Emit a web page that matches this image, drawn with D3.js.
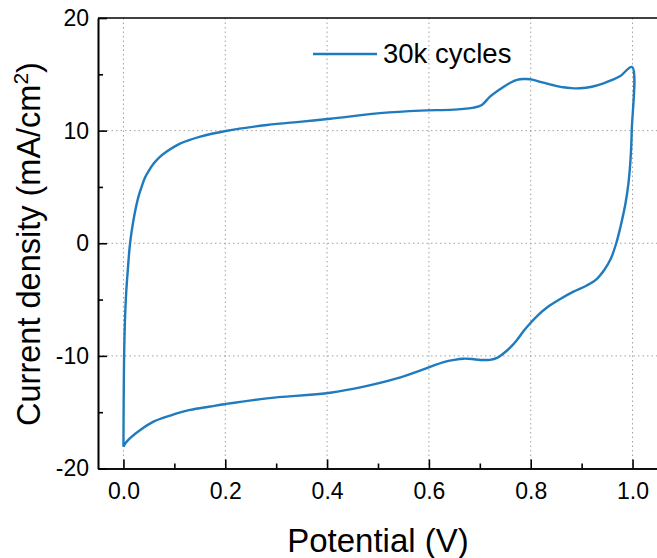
<!DOCTYPE html>
<html>
<head>
<meta charset="utf-8">
<script src="https://cdn.jsdelivr.net/npm/d3@7"></script>
<style>
  html, body { margin: 0; padding: 0; background: #fff; }
  svg { display: block; }
  text { font-family: "Liberation Sans", Arial, sans-serif; fill: #000; }
</style>
</head>
<body>
<svg id="chart" width="657" height="558"></svg>
<script>
// Cyclic voltammogram after 30k cycles: anodic sweep 0 -> 1 V, then cathodic sweep back to 0 V
const potential = [
  // anodic sweep
  0.000, 0.0003, 0.0008, 0.0015, 0.003, 0.0055, 0.0085, 0.013, 0.0197, 0.0295,
  0.036, 0.0426, 0.050, 0.059, 0.070, 0.085, 0.111, 0.151, 0.201, 0.282,
  0.350, 0.406, 0.504, 0.583, 0.648, 0.688, 0.704, 0.720, 0.747, 0.760,
  0.773, 0.786, 0.799, 0.812, 0.825, 0.845, 0.864, 0.880, 0.897, 0.920,
  0.943, 0.960, 0.976, 0.999,
  // cathodic sweep
  0.9985, 0.996, 0.992, 0.986, 0.976, 0.968, 0.957, 0.944, 0.929, 0.910,
  0.884, 0.858, 0.832, 0.815, 0.799, 0.786, 0.773, 0.760, 0.747, 0.735,
  0.720, 0.701, 0.685, 0.668, 0.650, 0.629, 0.601, 0.537, 0.472, 0.406,
  0.282, 0.201, 0.170, 0.131, 0.092, 0.059, 0.033, 0.013, 0.005, 0.000
];
const current = [
  -18.06, -15.0, -12.0, -9.5, -6.8, -4.3, -2.4, 0.0, 2.07, 4.14,
  5.05, 5.85, 6.45, 7.05, 7.6, 8.14, 8.85, 9.47, 9.97, 10.5,
  10.8, 11.05, 11.55, 11.78, 11.86, 12.04, 12.28, 13.02, 13.9, 14.25,
  14.5, 14.58, 14.56, 14.42, 14.26, 14.03, 13.85, 13.77, 13.76, 13.9,
  14.2, 14.5, 14.85, 15.65,
  10.06, 7.4, 5.33, 3.5, 1.4, 0.0, -1.4, -2.4, -3.2, -3.75,
  -4.3, -4.95, -5.7, -6.35, -7.1, -7.8, -8.59, -9.25, -9.77, -10.15,
  -10.35, -10.36, -10.28, -10.25, -10.35, -10.55, -11.0, -12.0, -12.73, -13.27,
  -13.77, -14.27, -14.5, -14.8, -15.3, -15.84, -16.58, -17.3, -17.7, -18.06
];
const seriesLabel = "30k cycles";

const xMajor = [0, 0.2, 0.4, 0.6, 0.8, 1.0];
const xMinor = [0.1, 0.3, 0.5, 0.7, 0.9];
const yMajor = [-20, -10, 0, 10, 20];
const yMinor = [-15, -5, 5, 15];
const yGrid = [-10, 0, 10];

const svg = d3.select("#chart");
const plotLeft = 98, plotRight = 658, plotTop = 18, plotBottom = 468.5;

const x = d3.scaleLinear().domain([-0.05, 1.05]).range([plotLeft, plotRight]);
const y = d3.scaleLinear().domain([-20, 20]).range([plotBottom, plotTop]);

const color = "#1f7bbd";

// dotted grid
const grid = svg.append("g").attr("stroke", "#a0a0a0").attr("stroke-width", 1)
  .attr("stroke-dasharray", "1.5,3");
grid.selectAll("line.gx").data(xMajor).join("line")
  .attr("x1", d => x(d)).attr("x2", d => x(d))
  .attr("y1", plotTop).attr("y2", plotBottom);
grid.selectAll("line.gy").data(yGrid).join("line")
  .attr("x1", plotLeft).attr("x2", plotRight)
  .attr("y1", d => y(d)).attr("y2", d => y(d));

// CV curve
const pts = potential.map((p, i) => [p, current[i]]);
const line = d3.line()
  .x(d => x(d[0])).y(d => y(d[1]))
  .curve(d3.curveCatmullRom.alpha(0.5));
svg.append("path").datum(pts)
  .attr("fill", "none").attr("stroke", color)
  .attr("stroke-width", 2.4).attr("stroke-linejoin", "round")
  .attr("d", line);

// frame lines
svg.append("line").attr("x1", plotLeft).attr("x2", plotRight).attr("y1", plotTop).attr("y2", plotTop)
  .attr("stroke", "#000").attr("stroke-width", 1.6);
svg.append("line").attr("x1", plotRight).attr("x2", plotRight).attr("y1", plotTop).attr("y2", plotBottom)
  .attr("stroke", "#000").attr("stroke-width", 1.6);

// axes (ticks pointing inward)
const hyphenInt = d => String(Math.round(d));
svg.append("g").attr("transform", `translate(0,${plotBottom})`)
  .call(d3.axisBottom(x).tickValues(xMajor).tickFormat(d => d.toFixed(1))
    .tickSize(-9).tickSizeOuter(0).tickPadding(14));
svg.append("g").attr("transform", `translate(0,${plotBottom})`)
  .call(d3.axisBottom(x).tickValues(xMinor).tickFormat("")
    .tickSize(-5).tickSizeOuter(0));
svg.append("g").attr("transform", `translate(${plotLeft},0)`)
  .call(d3.axisLeft(y).tickValues(yMajor).tickFormat(hyphenInt)
    .tickSize(-9).tickSizeOuter(0).tickPadding(9));
svg.append("g").attr("transform", `translate(${plotLeft},0)`)
  .call(d3.axisLeft(y).tickValues(yMinor).tickFormat("")
    .tickSize(-5).tickSizeOuter(0));

svg.selectAll(".domain").attr("stroke", "#000").attr("stroke-width", 1.6);
svg.selectAll(".tick line").attr("stroke", "#000").attr("stroke-width", 1.6);
svg.selectAll(".tick text").attr("font-size", 23)
  .attr("font-family", "Liberation Sans, Arial, sans-serif").attr("fill", "#000");

// axis titles
svg.append("text").attr("x", 378).attr("y", 552).attr("text-anchor", "middle")
  .attr("font-size", 33).text("Potential (V)");

const yt = svg.append("text").attr("transform", "translate(40,244) rotate(-90)")
  .attr("text-anchor", "middle").attr("font-size", 32.5);
yt.append("tspan").text("Current density (mA/cm");
yt.append("tspan").attr("dy", -12).attr("font-size", 21).text("2");
yt.append("tspan").attr("dy", 12).text(")");

// legend
svg.append("line").attr("x1", 313).attr("x2", 377).attr("y1", 54).attr("y2", 54)
  .attr("stroke", color).attr("stroke-width", 2.3);
svg.append("text").attr("x", 383).attr("y", 63).attr("font-size", 27.5).text(seriesLabel);
</script>
</body>
</html>
